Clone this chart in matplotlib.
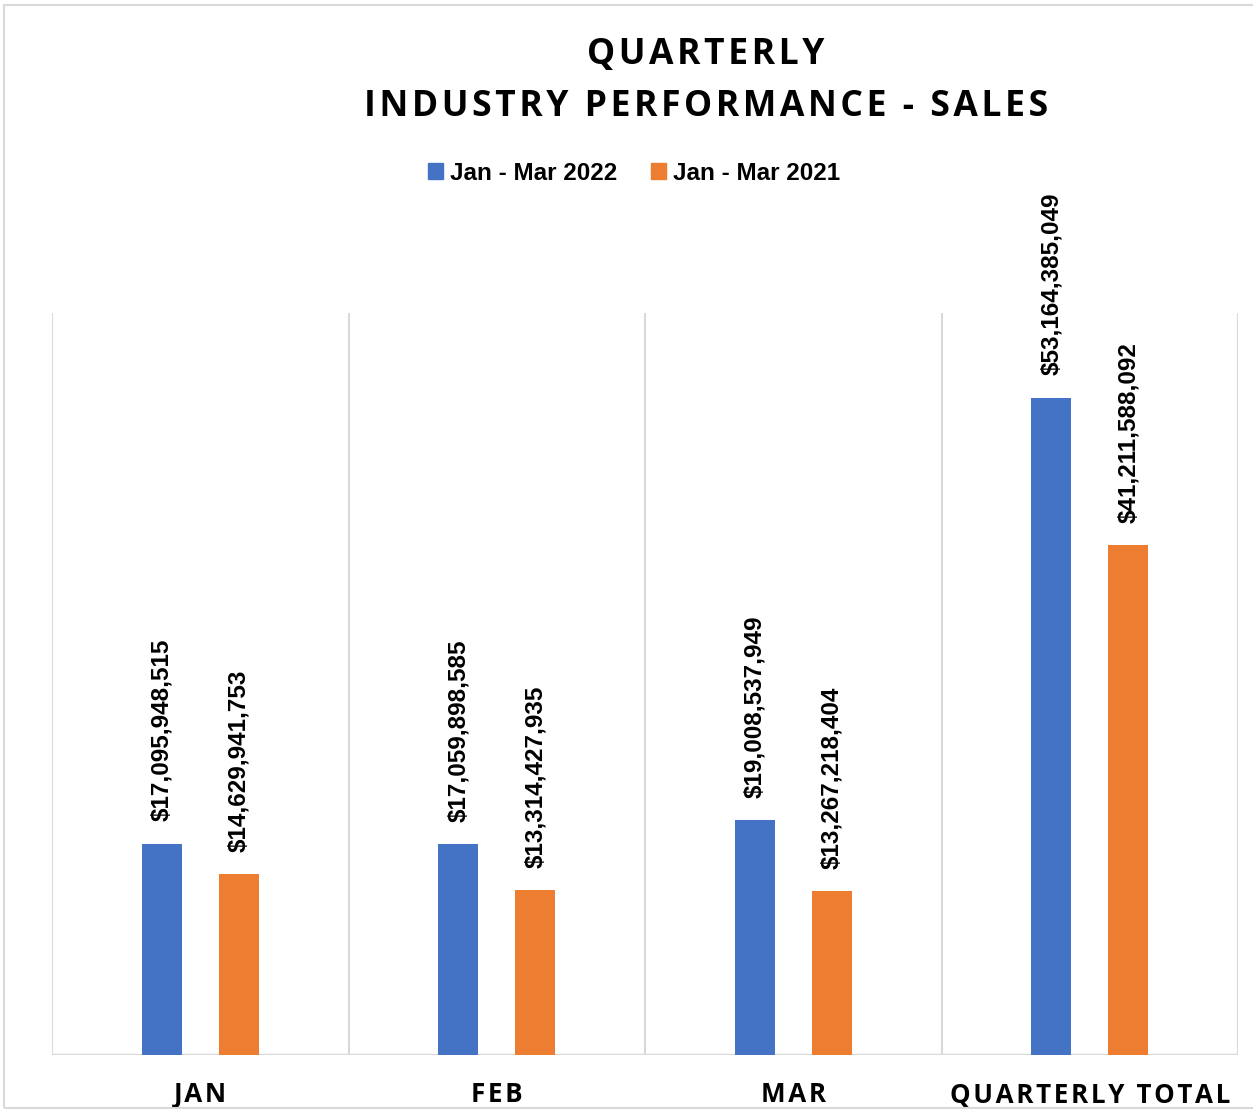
import matplotlib
matplotlib.use("Agg")
import matplotlib.pyplot as plt
from matplotlib.patches import Patch, Rectangle
from matplotlib import font_manager

categories = ["JAN", "FEB", "MAR", "QUARTERLY TOTAL"]
sales_2022 = [17095948515, 17059898585, 19008537949, 53164385049]
sales_2021 = [14629941753, 13314427935, 13267218404, 41211588092]
series_names = ["Jan - Mar 2022", "Jan - Mar 2021"]

BLUE = "#4472C4"
ORANGE = "#ED7D31"
GRID = "#d9d9d9"

narrow = ["Liberation Sans", "DejaVu Sans"]
wide = ["Open Sans", "DejaVu Sans"]


def tracked(s, sep="\u200a"):
    # fake letter spacing
    return sep.join(s)


fig = plt.figure(figsize=(12.53, 11.09), dpi=100)
ax = fig.add_axes([52 / 1253, 1 - 1055 / 1109, (1238 - 52) / 1253, (1055 - 313) / 1109])

# outer chart border
fig.patches.append(Rectangle((4 / 1253, 1 / 1109), 1.2, 1 - 6 / 1109, transform=fig.transFigure,
                             fill=False, edgecolor=GRID, linewidth=1.5))

x = range(len(categories))
w = 0.135
off = 0.13
b1 = ax.bar([i - off for i in x], sales_2022, width=w, color=BLUE, zorder=3)
b2 = ax.bar([i + off for i in x], sales_2021, width=w, color=ORANGE, zorder=3)

ax.set_xlim(-0.5, 3.5)
ax.set_ylim(0, 60e9)

for bars in (b1, b2):
    for r in bars:
        ax.annotate(f"${r.get_height():,.0f}", (r.get_x() + r.get_width() / 2, r.get_height()),
                    xytext=(0, 16), textcoords="offset points", rotation=90,
                    ha="center", va="bottom", fontsize=17.5, fontweight="bold", family=narrow)

for gx in [-0.5, 0.5, 1.5, 2.5, 3.5]:
    ax.axvline(gx, color=GRID, linewidth=1.5, zorder=1)

for s in ax.spines.values():
    s.set_visible(False)
ax.axhline(0, color=GRID, linewidth=2.5, zorder=2)
ax.set_yticks([])
ax.set_xticks(list(x))
ax.set_xticklabels([tracked(c) for c in categories], fontsize=18.7, fontweight="bold", family=wide)
ax.tick_params(axis="x", length=0, pad=19)

fig.text(706 / 1253, 1 - 55 / 1109, tracked("QUARTERLY"), ha="center", va="center",
         fontsize=25.6, fontweight="bold", family=wide)
fig.text(706 / 1253, 1 - 107 / 1109, tracked("INDUSTRY PERFORMANCE - SALES"), ha="center", va="center",
         fontsize=25.6, fontweight="bold", family=wide)

handles = [Patch(color=BLUE), Patch(color=ORANGE)]
leg = fig.legend(handles, series_names, loc="center", bbox_to_anchor=(634 / 1253, 1 - 173 / 1109),
                 ncol=2, frameon=False, handlelength=0.6, handleheight=0.6, handletextpad=0.3,
                 columnspacing=1.4, prop=font_manager.FontProperties(family=narrow, weight="bold", size=17.5))

fig.savefig("out.png", dpi=100)
